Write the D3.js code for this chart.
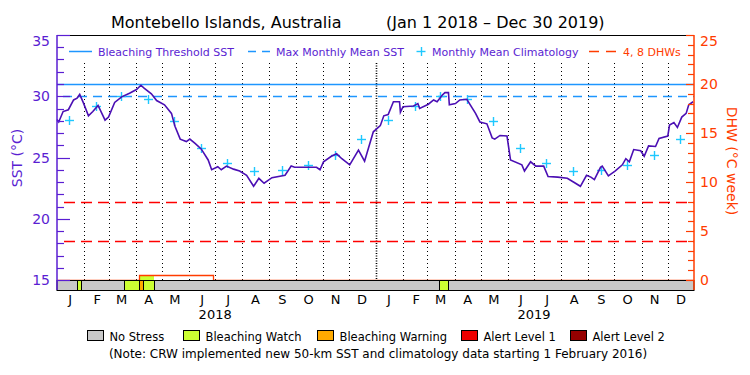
<!DOCTYPE html>
<html>
<head>
<meta charset="utf-8">
<script src="https://cdn.jsdelivr.net/npm/d3@7"></script>
<style>
  body { margin: 0; background: #fff; }
  svg { display: block; font-family: "DejaVu Sans", sans-serif; }
</style>
</head>
<body>
<script>
// daily SST (every few days)
var sstDates = [
  "2018-01-01","2018-01-03","2018-01-08","2018-01-14","2018-01-20","2018-01-24","2018-01-27","2018-01-31",
  "2018-02-06","2018-02-11","2018-02-17","2018-02-25","2018-03-01","2018-03-08","2018-03-16","2018-03-25",
  "2018-04-02","2018-04-07","2018-04-11","2018-04-19","2018-04-25","2018-05-04","2018-05-12","2018-05-16",
  "2018-05-22","2018-05-29","2018-06-02","2018-06-08","2018-06-15","2018-06-23","2018-06-27","2018-07-04",
  "2018-07-08","2018-07-14","2018-07-22","2018-07-29","2018-08-06","2018-08-14","2018-08-20","2018-08-26",
  "2018-09-04","2018-09-19","2018-09-26","2018-09-30","2018-10-12","2018-10-25","2018-10-29","2018-11-02",
  "2018-11-11","2018-11-17","2018-11-23","2018-12-02","2018-12-12","2018-12-19","2018-12-29",
  "2019-01-06","2019-01-10","2019-01-15","2019-01-21","2019-01-28","2019-01-29","2019-02-01","2019-02-13",
  "2019-02-18","2019-02-20","2019-03-02","2019-03-08","2019-03-12","2019-03-18","2019-03-21","2019-03-25",
  "2019-03-26","2019-04-02","2019-04-07","2019-04-15","2019-04-25","2019-04-30","2019-05-08","2019-05-14",
  "2019-05-17","2019-05-23","2019-05-31","2019-06-04","2019-06-17","2019-06-20","2019-06-27","2019-07-03",
  "2019-07-12","2019-07-17","2019-07-28","2019-08-08","2019-08-15","2019-08-23","2019-08-30","2019-09-04",
  "2019-09-08","2019-09-15","2019-09-17","2019-09-24","2019-10-02","2019-10-10","2019-10-14","2019-10-18",
  "2019-10-23","2019-10-31","2019-11-04","2019-11-09","2019-11-17","2019-11-21","2019-12-01","2019-12-03",
  "2019-12-08","2019-12-12","2019-12-17","2019-12-22","2019-12-25","2019-12-30"
];
var sstValues = [
  28.1,27.9,28.75,28.9,29.7,29.85,30.15,29.5,
  28.4,28.75,29.25,28.05,28.3,29.5,29.95,30.25,
  30.55,30.9,30.65,30.2,29.65,29.3,28.6,27.55,
  26.5,26.3,26.5,26.15,25.7,24.8,24.0,24.25,
  24.0,24.3,24.05,23.9,23.55,22.65,23.3,22.9,
  23.35,23.55,24.3,24.2,24.2,24.2,24.0,24.65,
  25.1,25.3,24.9,24.4,25.6,24.7,27.1,
  27.6,28.4,28.5,29.55,29.55,28.7,29.15,29.2,
  29.4,29.0,29.35,29.7,29.55,30.1,30.3,30.3,
  29.3,29.4,29.7,29.75,28.6,27.9,27.75,26.6,
  26.5,26.8,26.75,24.8,24.4,23.9,24.65,24.3,
  24.3,23.45,23.4,23.3,23.0,22.65,23.55,23.4,
  23.2,24.2,24.3,23.5,23.9,24.4,24.9,24.65,
  25.65,25.55,25.1,25.95,25.9,26.55,26.75,27.65,
  27.85,27.45,28.3,28.6,29.3,29.55
];

// monthly mean climatology, Jan..Dec
var monthLetters = ["J","F","M","A","M","J","J","A","S","O","N","D"];
var climValues = [28.05,29.2,30.0,29.75,27.95,25.75,24.55,23.9,24.0,24.35,25.2,26.5];
var years = [2018, 2019];

var mmm = 30.0;
var bleachThreshold = 31.0;
var dhwLevels = [4, 8];

// DHW (step)
var dhwDates = ["2018-01-01","2018-04-05","2018-06-28","2019-12-30"];
var dhwValues = [0, 0.5, 0, 0];

// stress level bar: 1 watch, 2 warning, 3 alert 1, 4 alert 2
var stressStart = ["2018-01-24","2018-03-19","2018-04-05","2018-04-09","2019-03-14"];
var stressEnd   = ["2018-01-29","2018-04-05","2018-04-09","2018-04-22","2019-03-25"];
var stressLevel = [1, 1, 2, 1, 1];

var stressNames = ["No Stress","Bleaching Watch","Bleaching Warning","Alert Level 1","Alert Level 2"];
var stressColors = ["#c8c8c8","#ccff33","#ffaa00","#ee0000","#960000"];

var W = 750, H = 375;
var pL = 57, pR = 694, pT = 35, pB = 280, barH = 10;
var purple = "#5a1ed2", lineCol = "#4b0fb4", orange = "#ff3c00";
var blue = "#1e96ff", cyan = "#1ec8ff";

var parse = d3.utcParse("%Y-%m-%d");
// put 1px lines on a pixel row
function snap(v) { return Math.round(v) + 0.5; }

var svg = d3.select("body").append("svg").attr("width", W).attr("height", H);

var x = d3.scaleUtc().domain([parse("2018-01-01"), parse("2019-12-31")]).range([pL, pR]);
var y = d3.scaleLinear().domain([15, 35]).range([pB, pT]);
var yd = d3.scaleLinear().domain([0, 25]).range([pB, pT]);

// title
svg.append("text").attr("x", 111).attr("y", 28).attr("font-size", 16)
  .text("Montebello Islands, Australia");
svg.append("text").attr("x", 386).attr("y", 28).attr("font-size", 16)
  .text("(Jan 1 2018 \u2013 Dec 30 2019)");

// month separators
var months = d3.utcMonth.range(parse("2018-02-01"), parse("2019-12-31"));
svg.selectAll("line.mon").data(months).enter().append("line")
  .attr("x1", function(d){ return snap(x(d)); }).attr("x2", function(d){ return snap(x(d)); })
  .attr("y1", 63).attr("y2", pB)
  .attr("stroke", "#000")
  .attr("stroke-width", function(d){ return d.getUTCMonth() === 0 ? 1.6 : 1; })
  .attr("stroke-dasharray", function(d){ return d.getUTCMonth() === 0 ? "1,1.5" : "1,3"; });

// threshold lines
svg.append("line").attr("x1", pL).attr("x2", pR)
  .attr("y1", snap(y(bleachThreshold))).attr("y2", snap(y(bleachThreshold)))
  .attr("stroke", blue).attr("stroke-width", 1.5);
svg.append("line").attr("x1", pL + 6).attr("x2", pR)
  .attr("y1", snap(y(mmm))).attr("y2", snap(y(mmm)))
  .attr("stroke", blue).attr("stroke-width", 1.5).attr("stroke-dasharray", "9,6");
svg.selectAll("line.dhw").data(dhwLevels).enter().append("line")
  .attr("x1", pL + 7).attr("x2", pR)
  .attr("y1", function(d){ return snap(yd(d)); }).attr("y2", function(d){ return snap(yd(d)); })
  .attr("stroke", "#ff0000").attr("stroke-width", 1.5).attr("stroke-dasharray", "11,6");

// climatology crosses
var clim = [];
years.forEach(function(yr){
  climValues.forEach(function(v, i){
    clim.push({ date: new Date(Date.UTC(yr, i, 15)), value: v });
  });
});
var cross = svg.selectAll("g.clim").data(clim).enter().append("g")
  .attr("transform", function(d){ return "translate(" + snap(x(d.date)) + "," + snap(y(d.value)) + ")"; });
cross.append("line").attr("x1", -4.5).attr("x2", 4.5).attr("stroke", cyan).attr("stroke-width", 1.4);
cross.append("line").attr("y1", -4.5).attr("y2", 4.5).attr("stroke", cyan).attr("stroke-width", 1.4);

// SST line
var sst = sstDates.map(function(d, i){ return { date: parse(d), value: sstValues[i] }; });
svg.append("path").datum(sst)
  .attr("fill", "none").attr("stroke", lineCol).attr("stroke-width", 1.6)
  .attr("d", d3.line().x(function(d){ return x(d.date); }).y(function(d){ return y(d.value); }));

// DHW
var dhw = dhwDates.map(function(d, i){ return { date: parse(d), value: dhwValues[i] }; });
svg.append("rect").attr("x", x(parse("2018-04-06"))).attr("y", yd(0.5))
  .attr("width", x(parse("2018-04-22")) - x(parse("2018-04-06"))).attr("height", yd(0) - yd(0.5))
  .attr("fill", stressColors[1]);
svg.append("path").datum(dhw)
  .attr("fill", "none").attr("stroke", orange).attr("stroke-width", 1.3)
  .attr("d", d3.line().curve(d3.curveStepAfter)
    .x(function(d){ return snap(x(d.date)); }).y(function(d){ return snap(yd(d.value)); }));

// stress bar
svg.append("rect").attr("x", pL).attr("y", pB + 0.5).attr("width", pR - pL).attr("height", barH)
  .attr("fill", stressColors[0]).attr("stroke", "#000").attr("stroke-width", 1);
svg.selectAll("rect.stress").data(stressLevel).enter().append("rect")
  .attr("x", function(d, i){ return snap(x(parse(stressStart[i]))); })
  .attr("width", function(d, i){ return Math.round(x(parse(stressEnd[i]))) - Math.round(x(parse(stressStart[i]))); })
  .attr("y", pB + 0.5).attr("height", barH)
  .attr("fill", function(d){ return stressColors[d]; })
  .attr("stroke", "#000").attr("stroke-width", 1);

// frame
svg.append("line").attr("x1", pL).attr("x2", pR).attr("y1", pT + 0.5).attr("y2", pT + 0.5)
  .attr("stroke", "#000").attr("stroke-width", 1.2);

// left axis
var gl = svg.append("g");
gl.append("line").attr("x1", pL).attr("x2", pL).attr("y1", pT).attr("y2", pB + barH)
  .attr("stroke", purple).attr("stroke-width", 1.5);
gl.selectAll("line.t").data(d3.range(15, 36)).enter().append("line")
  .attr("x1", pL).attr("x2", function(d){ return pL + (d % 5 === 0 ? 13 : 7); })
  .attr("y1", function(d){ return snap(y(d)); }).attr("y2", function(d){ return snap(y(d)); })
  .attr("stroke", purple).attr("stroke-width", 1.2);
gl.selectAll("text").data([15, 20, 25, 30, 35]).enter().append("text")
  .attr("x", 50).attr("y", function(d){ return d === 35 ? 46 : y(d) + 5; })
  .attr("text-anchor", "end").attr("font-size", 14).attr("fill", purple)
  .text(function(d){ return d; });
svg.append("text").attr("transform", "translate(22,158) rotate(-90)")
  .attr("text-anchor", "middle").attr("font-size", 14).attr("fill", purple)
  .text("SST (\u00b0C)");

// right axis
var gr = svg.append("g");
gr.append("line").attr("x1", pR).attr("x2", pR).attr("y1", pT).attr("y2", pB + barH)
  .attr("stroke", orange).attr("stroke-width", 1.5);
gr.selectAll("line.t").data(d3.range(0, 26)).enter().append("line")
  .attr("x1", pR).attr("x2", function(d){ return pR - (d % 5 === 0 ? 8 : 6); })
  .attr("y1", function(d){ return snap(yd(d)); }).attr("y2", function(d){ return snap(yd(d)); })
  .attr("stroke", orange).attr("stroke-width", 1.2);
gr.selectAll("text").data([0, 5, 10, 15, 20, 25]).enter().append("text")
  .attr("x", 700).attr("y", function(d){ return d === 25 ? 46 : yd(d) + 5; })
  .attr("font-size", 14).attr("fill", orange)
  .text(function(d){ return d; });
svg.append("text").attr("transform", "translate(727,161) rotate(90)")
  .attr("text-anchor", "middle").attr("font-size", 14).attr("fill", orange)
  .text("DHW (\u00b0C week)");

// month labels
var allMonths = d3.utcMonth.range(parse("2018-01-01"), parse("2019-12-31"));
svg.selectAll("text.mon").data(allMonths).enter().append("text")
  .attr("x", function(d){ return x(d3.utcDay.offset(d, 15)); }).attr("y", 304)
  .attr("text-anchor", "middle").attr("font-size", 13)
  .text(function(d){ return monthLetters[d.getUTCMonth()]; });
svg.selectAll("text.yr").data(years).enter().append("text")
  .attr("x", function(d){ return x(new Date(Date.UTC(d, 6, 1))); }).attr("y", 319)
  .attr("text-anchor", "middle").attr("font-size", 13)
  .text(function(d){ return d; });

// top legend
var ly = 51.5;
svg.append("line").attr("x1", 69).attr("x2", 92).attr("y1", ly).attr("y2", ly)
  .attr("stroke", blue).attr("stroke-width", 1.5);
svg.append("text").attr("x", 98).attr("y", ly + 4).attr("font-size", 11).attr("fill", purple)
  .text("Bleaching Threshold SST");
svg.append("line").attr("x1", 248).attr("x2", 270).attr("y1", ly).attr("y2", ly)
  .attr("stroke", blue).attr("stroke-width", 1.5).attr("stroke-dasharray", "8,6");
svg.append("text").attr("x", 276).attr("y", ly + 4).attr("font-size", 11).attr("fill", purple)
  .text("Max Monthly Mean SST");
svg.append("line").attr("x1", 416.5).attr("x2", 425.5).attr("y1", ly).attr("y2", ly)
  .attr("stroke", cyan).attr("stroke-width", 1.4);
svg.append("line").attr("x1", 421.5).attr("x2", 421.5).attr("y1", ly - 4.5).attr("y2", ly + 4.5)
  .attr("stroke", cyan).attr("stroke-width", 1.4);
svg.append("text").attr("x", 432).attr("y", ly + 4).attr("font-size", 11).attr("fill", purple)
  .text("Monthly Mean Climatology");
svg.append("line").attr("x1", 589).attr("x2", 617).attr("y1", ly).attr("y2", ly)
  .attr("stroke", orange).attr("stroke-width", 1.5).attr("stroke-dasharray", "10,7");
svg.append("text").attr("x", 623).attr("y", ly + 4).attr("font-size", 11).attr("fill", orange)
  .text("4, 8 DHWs");

// bottom legend
var legX = [87, 183, 317, 461, 570];
var lg = svg.selectAll("g.leg").data(stressNames).enter().append("g")
  .attr("transform", function(d, i){ return "translate(" + (legX[i] + 0.5) + ",330.5)"; });
lg.append("rect").attr("width", 16).attr("height", 10)
  .attr("fill", function(d, i){ return stressColors[i]; })
  .attr("stroke", "#000").attr("stroke-width", 1);
lg.append("text").attr("x", 22).attr("y", 10).attr("font-size", 11.5)
  .text(function(d){ return d; });

svg.append("text").attr("x", 378).attr("y", 358).attr("text-anchor", "middle").attr("font-size", 12)
  .text("(Note: CRW implemented new 50-km SST and climatology data starting 1 February 2016)");
</script>
</body>
</html>
